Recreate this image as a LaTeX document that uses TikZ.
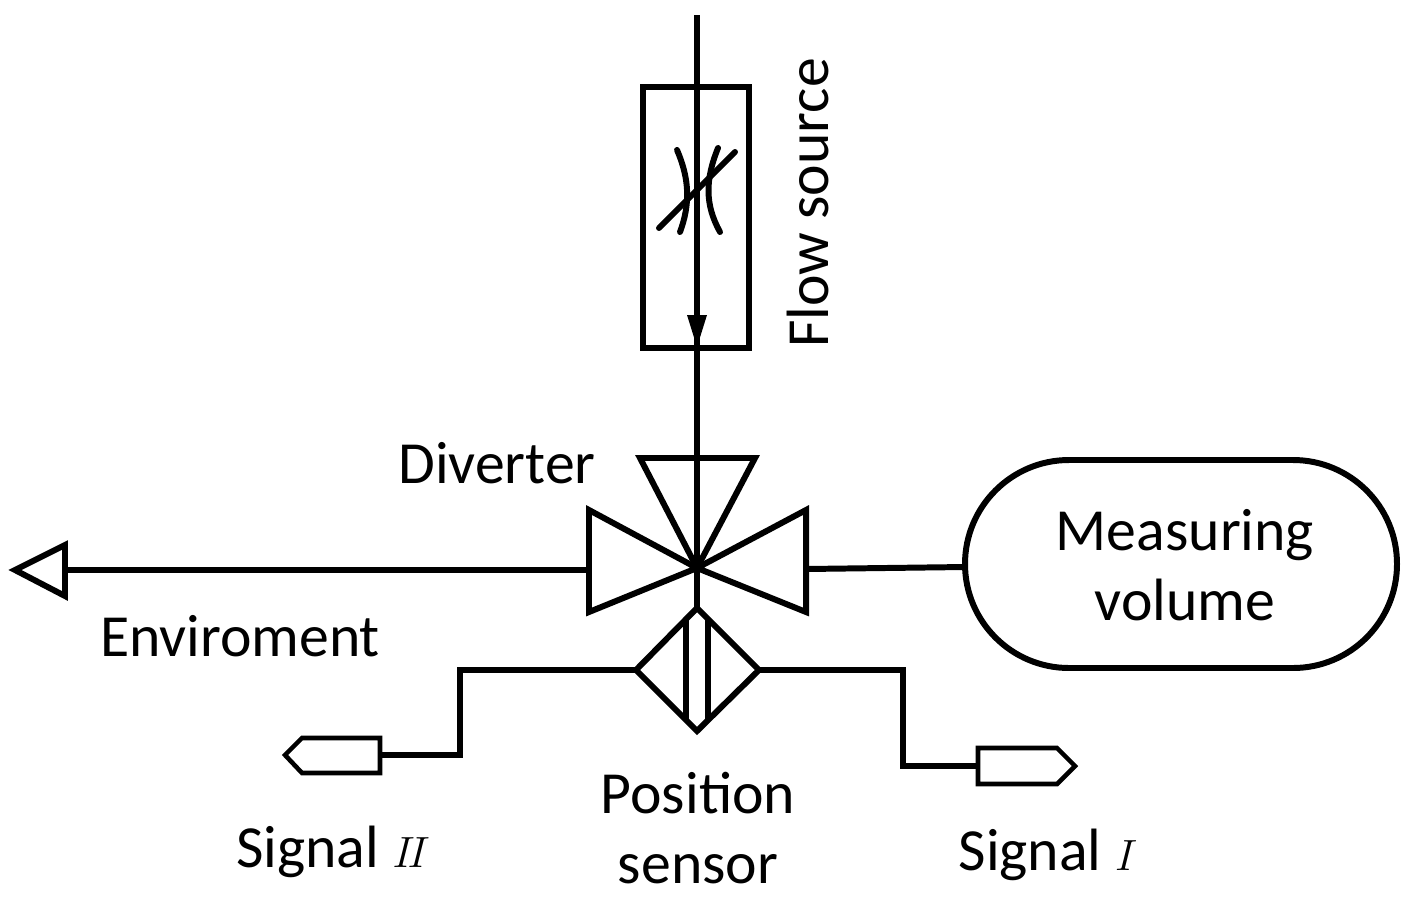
\documentclass[tikz,border=0pt]{standalone}
\usepackage{fontspec}
\setmainfont{Carlito}
\usetikzlibrary{arrows.meta}
\begin{document}
\begin{tikzpicture}[x=0.02cm, y=-0.02cm, line width=3.4pt, line join=miter,
    every node/.style={font=\fontsize{34}{40}\selectfont, inner sep=0pt},
    pipe/.style={draw},
    sym/.style={draw}]
    \useasboundingbox (0,0) rectangle (1422,896);
    % Named points
    \coordinate (top) at (697,15);
    \coordinate (c) at (697,568);
    \coordinate (envtip) at (65,570);
    % Flow source
    \draw [sym] (643,87) rectangle (749,348);
    \draw [pipe] (top) -- (c);
    \fill (687,315) -- (707,315) -- (697,347) -- cycle;
    \draw [sym, line cap=round] (677,150) .. controls (690,180) and (690,205) .. (680,232);
    \draw [sym, line cap=round] (718,148) .. controls (705,180) and (705,205) .. (720,232);
    \draw [sym, line cap=round] (659,228) -- (735,152);
    \node [rotate=90] (flow) at (808,203) {Flow source};
    % Diverter
    \draw [sym] (640,458) -- (755,458) -- (c) -- cycle;
    \draw [sym] (589,510) -- (589,612) -- (c) -- cycle;
    \draw [sym] (806,510) -- (806,612) -- (c) -- cycle;
    \node (div) at (497,463) {Diverter};
    % Environment
    \draw [pipe] (589,570) -- (envtip);
    \draw [sym] (envtip) -- (65,545) -- (15,570) -- (65,596) -- cycle;
    \node (env) at (240,636) {Enviroment};
    % Measuring volume
    \draw [sym, rounded corners=2.08cm] (965,460) rectangle (1397,668);
    \node [align=center] (vol) at (1185,565) {Measuring\\volume};
    \draw [pipe] (806,569) -- (965,567);
    % Position sensor
    \draw [pipe] (c) -- (697,608);
    \draw [sym] (697,608) -- (759,670) -- (697,731) -- (636,670) -- cycle;
    \draw [sym] (686,620) -- (686,720) (708,620) -- (708,720);
    \node [align=center] (pos) at (698,828) {Position\\sensor};
    % Signals
    \draw [pipe] (636,670) -- (460,670) -- (460,755) -- (380,755);
    \draw [sym, line width=2.6pt] (380,738) -- (302,738) -- (285,755) -- (302,773) -- (380,773) -- cycle;
    \draw [pipe] (759,670) -- (903,670) -- (903,766) -- (978,766);
    \draw [sym, line width=2.6pt] (978,748) -- (1057,748) -- (1075,766) -- (1057,784) -- (978,784) -- cycle;
    \node (sig2) at (333,852) {Signal $I\!I$};
    \node (sig1) at (1048,855) {Signal $I$};
\end{tikzpicture}
\end{document}
